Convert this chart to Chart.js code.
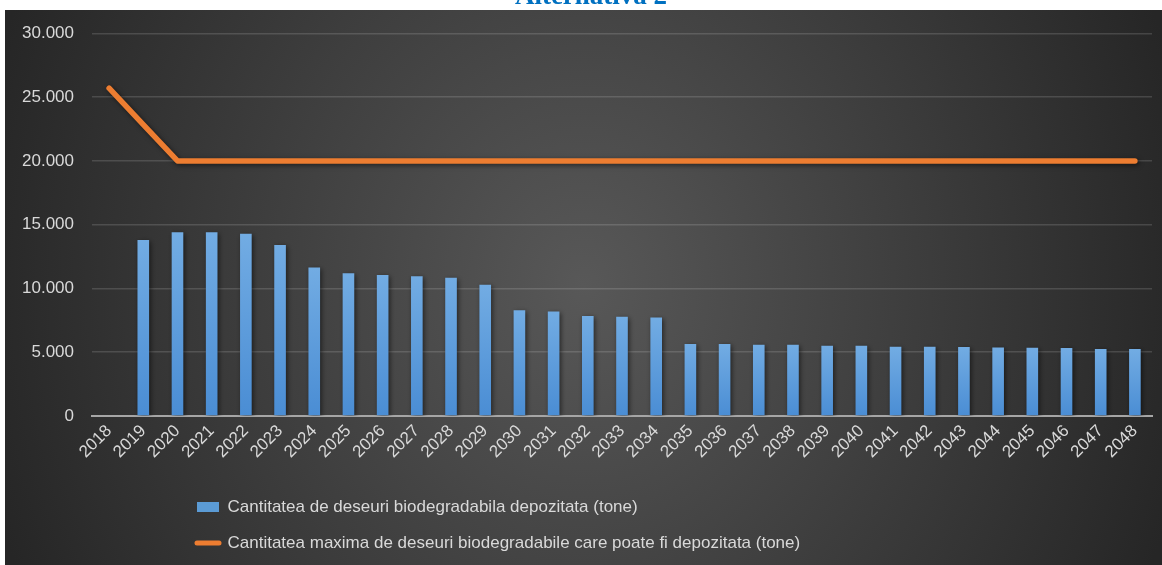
<!DOCTYPE html>
<html>
<head>
<meta charset="utf-8">
<script src="https://cdn.jsdelivr.net/npm/chart.js@4.4.1/dist/chart.umd.min.js"></script>
<style>
html,body{margin:0;padding:0;background:#fff;overflow:hidden}
#wrap{position:relative;width:1162px;height:565px}
</style>
</head>
<body>
<div id="wrap"><canvas id="c" width="1162" height="565"></canvas></div>
<script>
// ---- data ----
const titleText = 'Alternativa 2';
const years = ['2018','2019','2020','2021','2022','2023','2024','2025','2026','2027','2028','2029','2030','2031','2032','2033','2034','2035','2036','2037','2038','2039','2040','2041','2042','2043','2044','2045','2046','2047','2048'];
const depositedWaste = [null,13800,14400,14400,14300,13400,11650,11200,11050,10950,10850,10300,8300,8200,7850,7780,7720,5650,5650,5580,5580,5500,5500,5430,5430,5420,5370,5360,5340,5260,5260];
const maxAllowedWaste = [25700,22850,20000,20000,20000,20000,20000,20000,20000,20000,20000,20000,20000,20000,20000,20000,20000,20000,20000,20000,20000,20000,20000,20000,20000,20000,20000,20000,20000,20000,20000];
const yTicks = [0,5000,10000,15000,20000,25000,30000];
const seriesLabels = ['Cantitatea de deseuri biodegradabila depozitata (tone)','Cantitatea maxima de deseuri biodegradabile care poate fi depozitata (tone)'];

// ---- styles ----
const FONT = "'Liberation Sans', Arial, sans-serif";
const TXT = '#D9D9D9';
const BLUE = '#5B9BD5';
const ORANGE = '#ED7D31';

function fmt(v){ return String(v).replace(/\B(?=(\d{3})+(?!\d))/g,'.'); }

function barFill(c){
  const ch = c.chart, ys = ch.scales && ch.scales.y;
  if (!ch.chartArea || !ys || c.type !== 'data' || c.raw == null) return BLUE;
  const top = ys.getPixelForValue(c.raw), bot = ys.getPixelForValue(0);
  const g = ch.ctx.createLinearGradient(0, top, 0, bot);
  g.addColorStop(0, '#72ACE3');
  g.addColorStop(1, '#4A8DD4');
  return g;
}

const bgPlugin = {
  id: 'bg',
  beforeDraw(chart){
    const c = chart.ctx, W = chart.width, H = chart.height;
    c.save();
    c.fillStyle = '#ffffff';
    c.fillRect(0,0,W,H);
    const x0=5, y0=10, x1=W, y1=H;
    c.beginPath(); c.rect(x0,y0,x1-x0,y1-y0); c.clip();
    c.translate((x0+x1)/2, 285);
    c.scale(1, 700/620);
    const g = c.createRadialGradient(0,0,0,0,0,620);
    g.addColorStop(0,'#585858');
    g.addColorStop(1,'#262626');
    c.fillStyle = g;
    c.fillRect(-800,-800,1600,1600);
    c.restore();
  }
};

const shadowPlugin = {
  id: 'shadow',
  beforeDatasetDraw(chart){
    const c = chart.ctx; c.save();
    c.shadowColor = 'rgba(0,0,0,0.55)'; c.shadowBlur = 5; c.shadowOffsetX = 1.5; c.shadowOffsetY = 1.5;
  },
  afterDatasetDraw(chart){ chart.ctx.restore(); }
};

const placePlugin = {
  id: 'place',
  afterLayout(chart){
    const lg = chart.legend;
    if (lg){ lg.left = 178; lg.right = 1050; lg.top = 479.5; lg.bottom = lg.top + 80; }
    const t = chart.titleBlock;
    if (t){ t.left = 20; t.right = chart.width; }
  }
};

new Chart(document.getElementById('c'), {
  data: {
    labels: years,
    datasets: [
      { type:'bar', label: seriesLabels[0], data: depositedWaste, backgroundColor: barFill, borderWidth:0,
        categoryPercentage:1, barPercentage:0.34 },
      { type:'line', label: seriesLabels[1], data: maxAllowedWaste, borderColor: ORANGE, backgroundColor: ORANGE,
        borderWidth:5.5, borderCapStyle:'round', borderJoinStyle:'round', tension:0, pointRadius:0,
        pointBorderWidth:5, pointBorderColor: ORANGE, pointBackgroundColor: ORANGE, pointStyle:'line' }
    ]
  },
  options: {
    responsive:false, animation:false, devicePixelRatio:1,
    layout:{ padding:{ left:0, right:10, top:0, bottom:0 } },
    plugins:{
      tooltip:{ enabled:false },
      title:{ display:true, text:titleText, color:'#0070C0',
        font:{ family:"'Liberation Serif','Times New Roman',serif", size:27, weight:'bold', lineHeight:1.2 },
        padding:{ top:-19, bottom:20 } },
      legend:{ position:'bottom', align:'start',
        labels:{ color:TXT, font:{ family:FONT, size:17 }, usePointStyle:true, pointStyleWidth:22, boxHeight:10, padding:19,
          generateLabels:(chart)=>{
            const items = Chart.defaults.plugins.legend.labels.generateLabels(chart);
            items[0].pointStyle='rect'; items[0].fillStyle=BLUE; items[0].lineWidth=0;
            items[1].pointStyle='line'; items[1].strokeStyle=ORANGE; items[1].lineWidth=5; items[1].lineCap='round';
            return items;
          } } }
    },
    scales:{
      x:{ ticks:{ color:TXT, font:{ family:FONT, size:17 }, minRotation:45, maxRotation:45, autoSkip:false, padding:5 },
          grid:{ display:false, drawTicks:false },
          border:{ display:true, color:'#A6A6A6', width:2 },
          afterFit:(s)=>{ s.height = 103; } },
      y:{ min:0, max:30000,
          afterBuildTicks:(s)=>{ s.ticks = yTicks.map(v=>({value:v})); },
          ticks:{ color:TXT, font:{ family:FONT, size:17 }, padding:18, callback:(v)=>fmt(v) },
          grid:{ color:'rgba(255,255,255,0.14)', lineWidth:1.5, drawTicks:false },
          border:{ display:false },
          afterFit:(s)=>{ s.width = 92; } }
    }
  },
  plugins:[bgPlugin, shadowPlugin, placePlugin]
});
</script>
</body>
</html>
